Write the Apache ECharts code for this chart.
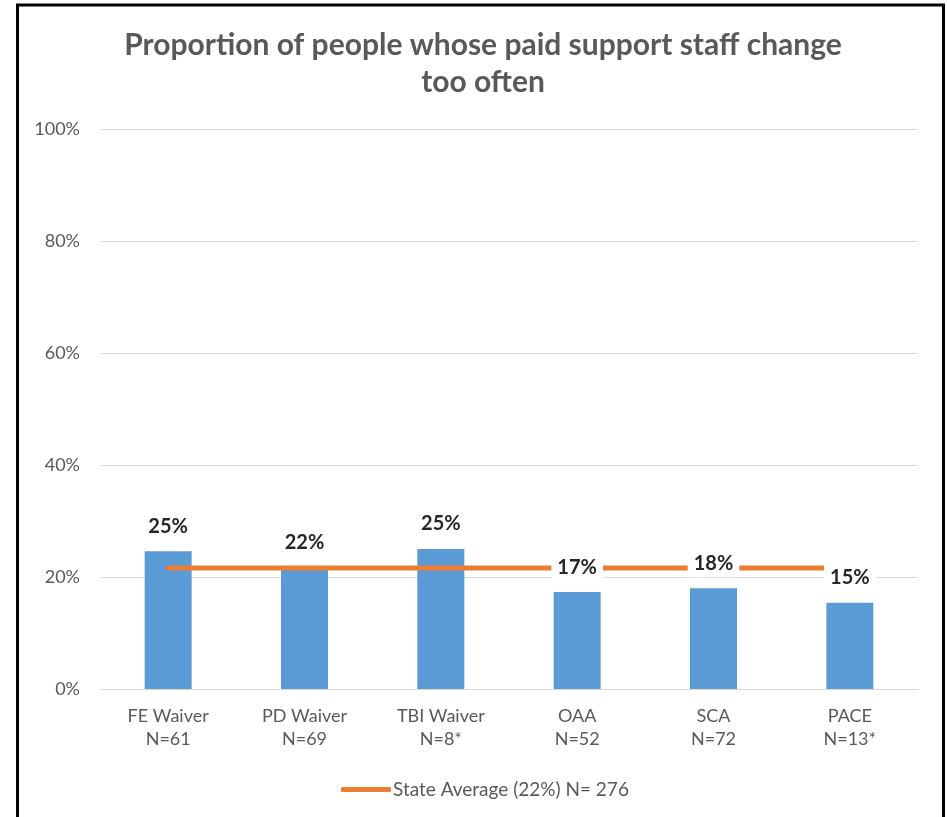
<!DOCTYPE html>
<html>
<head>
<meta charset="utf-8">
<style>
  html, body { margin: 0; padding: 0; background: #fff; }
  #chart { width: 947px; height: 817px; }
</style>
<script src="https://cdn.jsdelivr.net/npm/echarts@6/dist/echarts.min.js"></script>
</head>
<body>
<div id="chart"></div>
<script>
// Program groups and their sample sizes
const categories = ['FE Waiver\nN=61', 'PD Waiver\nN=69', 'TBI Waiver\nN=8*', 'OAA\nN=52', 'SCA\nN=72', 'PACE\nN=13*'];
// Share of people whose paid support staff change too often (%)
const programValues = [24.6, 21.7, 25.0, 17.3, 18.0, 15.4];
// Statewide average (%), repeated across every program
const stateAverage = [21.6, 21.6, 21.6, 21.6, 21.6, 21.6];
const yTicks = { min: 0, max: 100, interval: 20 };
const legendName = 'State Average (22%) N= 276';

const FONT = 'Lato, "Liberation Sans", sans-serif';
const chart = echarts.init(document.getElementById('chart'), null, { renderer: 'canvas' });

chart.setOption({
  backgroundColor: '#ffffff',
  animation: false,
  title: {
    text: 'Proportion of people whose paid support staff change\ntoo often',
    left: 478,
    textAlign: 'center',
    top: 22,
    textStyle: { fontFamily: FONT, fontSize: 30, fontWeight: 'bold', color: '#595959', lineHeight: 37 }
  },
  graphic: [{
    type: 'rect',
    shape: { x: 17.5, y: 5, width: 926, height: 900 },
    style: { fill: null, stroke: '#000000', lineWidth: 3 },
    silent: true
  }],
  legend: {
    data: [{ name: legendName, icon: 'roundRect' }],
    left: 336,
    top: 775,
    itemWidth: 50,
    itemHeight: 5,
    textStyle: { fontFamily: FONT, fontSize: 19, color: '#595959', padding: [0, 0, 0, -3] }
  },
  grid: { left: 100, right: 29, top: 129, bottom: 128, containLabel: false },
  xAxis: {
    type: 'category',
    data: categories,
    axisLine: { lineStyle: { color: '#D9D9D9', width: 1 } },
    axisTick: { show: false },
    axisLabel: { fontFamily: FONT, fontSize: 18, color: '#595959', lineHeight: 23, margin: 16, interval: 0 }
  },
  yAxis: {
    type: 'value',
    min: yTicks.min,
    max: yTicks.max,
    interval: yTicks.interval,
    axisLine: { show: false },
    axisTick: { show: false },
    splitLine: { lineStyle: { color: '#D9D9D9', width: 1 } },
    axisLabel: { fontFamily: FONT, fontSize: 18, color: '#595959', margin: 20, formatter: '{value}%' }
  },
  series: [
    {
      name: 'Programs',
      type: 'bar',
      data: programValues,
      barWidth: 47,
      z: 2,
      itemStyle: { color: '#5B9BD5' }
    },
    {
      name: legendName,
      type: 'line',
      data: stateAverage,
      symbol: 'none',
      z: 3,
      lineStyle: { color: '#ED7D31', width: 5, cap: 'round' },
      itemStyle: { color: '#ED7D31' }
    },
    {
      // value labels drawn above the average line, with a white backdrop
      name: 'labels',
      type: 'bar',
      data: programValues,
      barWidth: 47,
      barGap: '-100%',
      z: 4,
      silent: true,
      itemStyle: { color: 'rgba(0,0,0,0)' },
      label: {
        show: true,
        position: 'top',
        distance: 11,
        formatter: p => Math.round(p.value) + '%',
        fontFamily: FONT,
        fontSize: 20,
        fontWeight: 'bold',
        color: '#262626',
        backgroundColor: '#ffffff',
        padding: [3, 6],
        lineHeight: 22
      }
    }
  ]
});
</script>
</body>
</html>
